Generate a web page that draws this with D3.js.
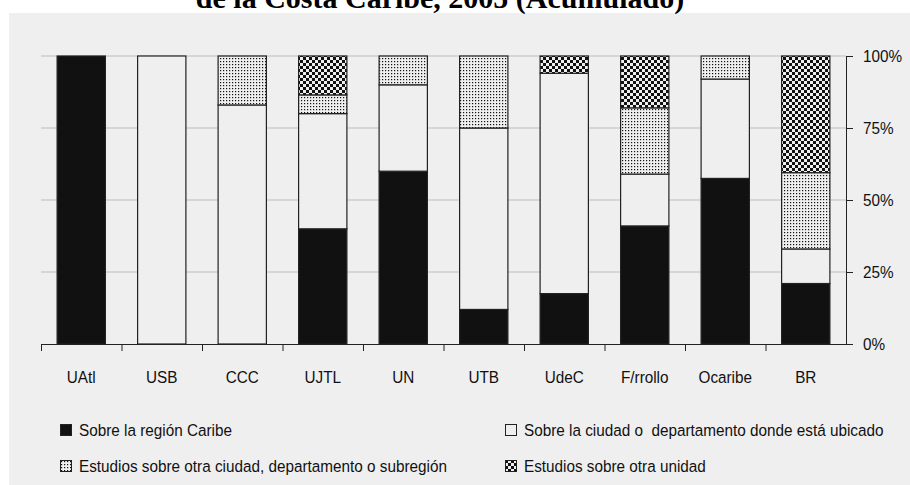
<!DOCTYPE html>
<html>
<head>
<meta charset="utf-8">
<script src="https://cdn.jsdelivr.net/npm/d3@7"></script>
<style>
  body { margin: 0; background: #fff; }
  svg { display: block; }
</style>
</head>
<body>
<div id="chart"></div>
<script>
const W = 910, H = 485;

// data (percent of each unit's studies)
const categories = ['UAtl', 'USB', 'CCC', 'UJTL', 'UN', 'UTB', 'UdeC', 'F/rrollo', 'Ocaribe', 'BR'];
const caribe   = [100,   0,  0,  40, 60, 12, 17.5, 41, 57.5, 21];
const ciudad   = [  0, 100, 83,  40, 30, 63, 76.5, 18, 34.5, 12];
const otraCiud = [  0,   0, 17, 6.5, 10, 25,    0, 23,    8, 26.5];
const otraUnid = [  0,   0,  0, 13.5, 0,  0,    6, 18,    0, 40.5];
const seriesNames = [
  'Sobre la región Caribe',
  'Sobre la ciudad o  departamento donde está ubicado',
  'Estudios sobre otra ciudad, departamento o subregión',
  'Estudios sobre otra unidad'
];
const yTicks = [0, 25, 50, 75, 100];

const bg = '#efefef';
const svg = d3.select('#chart').append('svg').attr('width', W).attr('height', H);

// patterns for the two hatched series
const defs = svg.append('defs');
const dots = defs.append('pattern').attr('id', 'dots').attr('patternUnits', 'userSpaceOnUse')
  .attr('width', 3).attr('height', 3);
dots.append('rect').attr('width', 3).attr('height', 3).attr('fill', bg);
dots.append('rect').attr('x', 1).attr('y', 1).attr('width', 1.2).attr('height', 1.2).attr('fill', '#111');

const checks = defs.append('pattern').attr('id', 'checks').attr('patternUnits', 'userSpaceOnUse')
  .attr('width', 6).attr('height', 6);
checks.append('rect').attr('width', 6).attr('height', 6).attr('fill', bg);
checks.append('rect').attr('width', 3).attr('height', 3).attr('fill', '#111');
checks.append('rect').attr('x', 3).attr('y', 3).attr('width', 3).attr('height', 3).attr('fill', '#111');

const fills = ['#111', bg, 'url(#dots)', 'url(#checks)'];
const axisFont = '"Liberation Sans", Arial, sans-serif';
const SX = 0.9; // text in the original is slightly condensed

// panel + cut-off title line
svg.append('rect').attr('x', 9).attr('y', 13).attr('width', W - 9).attr('height', H - 13).attr('fill', bg);
svg.append('text').attr('x', 440).attr('y', 8).attr('text-anchor', 'middle')
  .style('font-family', '"Liberation Serif", "Times New Roman", serif')
  .style('font-size', '30px').style('font-weight', 'bold')
  .text('de la Costa Caribe, 2005 (Acumulado)');

const m = { left: 41, right: 846, top: 56, bottom: 344 };
const x = d3.scaleBand().domain(categories).range([m.left, m.right]).paddingInner(0.4).paddingOuter(0.2);
const y = d3.scaleLinear().domain([0, 100]).range([m.bottom, m.top]);

// grid
svg.append('g').selectAll('line').data(yTicks.filter(d => d > 0)).join('line')
  .attr('x1', m.left).attr('x2', m.right)
  .attr('y1', d => y(d)).attr('y2', d => y(d))
  .attr('stroke', '#bdbdbd').attr('stroke-width', 1);

// stacked bars
const rows = categories.map((c, i) => ({ cat: c, s0: caribe[i], s1: ciudad[i], s2: otraCiud[i], s3: otraUnid[i] }));
const stack = d3.stack().keys(['s0', 's1', 's2', 's3'])(rows);
stack.forEach((layer, k) => {
  svg.append('g').selectAll('rect').data(layer.filter(d => d[1] - d[0] > 0)).join('rect')
    .attr('x', d => x(d.data.cat))
    .attr('width', x.bandwidth())
    .attr('y', d => y(d[1]))
    .attr('height', d => y(d[0]) - y(d[1]))
    .attr('fill', fills[k])
    .attr('stroke', '#222').attr('stroke-width', 1.2);
});

// bottom axis with ticks at band edges
const edges = d3.range(categories.length + 1).map(i => m.left + i * x.step());
const gx = svg.append('g');
gx.append('line').attr('x1', m.left).attr('x2', m.right).attr('y1', m.bottom + 0.5).attr('y2', m.bottom + 0.5)
  .attr('stroke', '#222');
gx.selectAll('line.t').data(edges.slice(0, -1)).join('line').attr('class', 't')
  .attr('x1', d => d + 0.5).attr('x2', d => d + 0.5).attr('y1', m.bottom).attr('y2', m.bottom + 7)
  .attr('stroke', '#222');
gx.selectAll('text').data(categories).join('text')
  .attr('transform', d => `translate(${x(d) + x.bandwidth() / 2},383) scale(${SX},1)`)
  .attr('text-anchor', 'middle')
  .style('font-family', axisFont).style('font-size', '17px').attr('fill', '#111')
  .text(d => d);

// right axis
const gy = svg.append('g').attr('transform', `translate(${m.right},0)`)
  .call(d3.axisRight(y).tickValues(yTicks).tickFormat(d => d + '%').tickSizeInner(7).tickSizeOuter(0).tickPadding(10));
gy.select('.domain').attr('stroke', '#222');
gy.selectAll('.tick line').attr('stroke', '#222');
gy.selectAll('.tick text').attr('x', 0).attr('transform', `translate(17,0) scale(${SX},1)`)
  .style('font-family', axisFont).style('font-size', '17px').attr('fill', '#111');

// legend
const legend = [
  { x: 60, y: 430 }, { x: 505, y: 430 }, { x: 60, y: 466 }, { x: 505, y: 466 }
];
const lg = svg.append('g').selectAll('g').data(seriesNames).join('g')
  .attr('transform', (d, i) => `translate(${legend[i].x},${legend[i].y})`);
lg.append('rect').attr('x', 0.5).attr('y', -5.5).attr('width', 11).attr('height', 11)
  .attr('fill', (d, i) => fills[i]).attr('stroke', '#222');
lg.append('text').attr('transform', `translate(19,6) scale(${SX},1)`)
  .style('font-family', axisFont).style('font-size', '17px').style('white-space', 'pre').attr('fill', '#111')
  .text(d => d);
</script>
</body>
</html>
